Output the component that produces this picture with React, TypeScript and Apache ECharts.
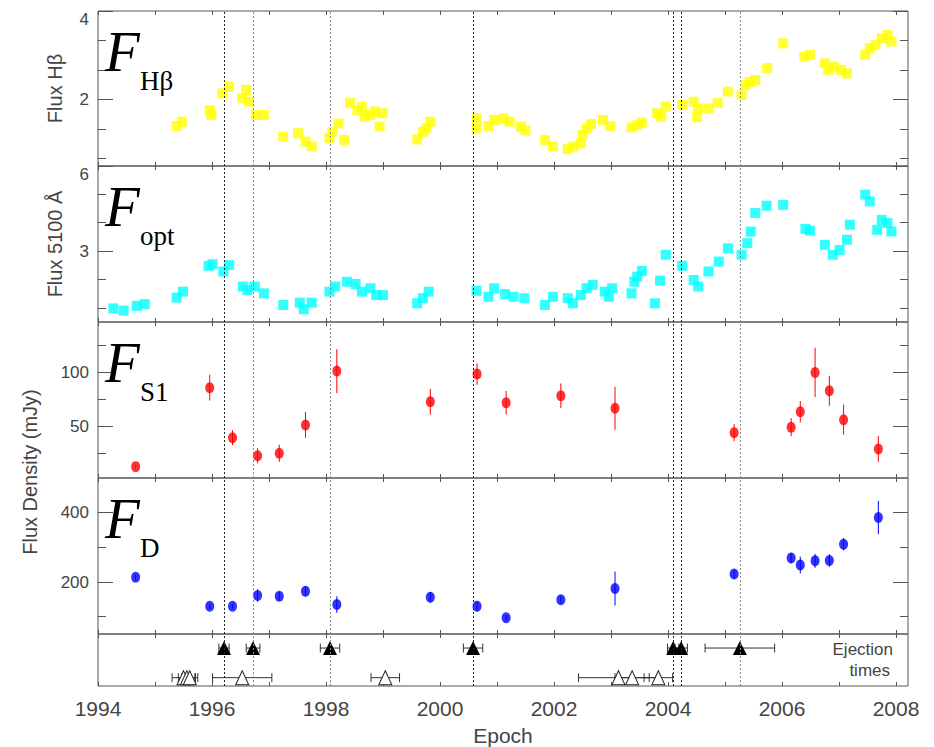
import React, { useEffect, useRef } from "react";
import * as echarts from "echarts";

const SANS = "'Liberation Sans', Arial, sans-serif";
const SERIF = "'Liberation Serif', 'Times New Roman', serif";
const TEXT = "#444";
const FRAME = "#555";

const X_MIN = 1994;
const X_MAX = 2008.21;
const YEAR_TICKS = [1994, 1995, 1996, 1997, 1998, 1999, 2000, 2001, 2002, 2003, 2004, 2005, 2006, 2007, 2008];
const YEAR_LABELS = [1994, 1996, 1998, 2000, 2002, 2004, 2006, 2008];

// H-beta line flux
const hbTime = [1995.38, 1995.47, 1995.96, 1995.99, 1996.18, 1996.30, 1996.53, 1996.60, 1996.65, 1996.77, 1996.91, 1997.25, 1997.51, 1997.64, 1997.75, 1998.06, 1998.11, 1998.22, 1998.32, 1998.42, 1998.55, 1998.63, 1998.68, 1998.78, 1998.86, 1998.94, 1998.99, 1999.60, 1999.70, 1999.76, 1999.83, 2000.64, 2000.64, 2000.85, 2000.95, 2001.11, 2001.22, 2001.42, 2001.50, 2001.84, 2001.98, 2002.24, 2002.34, 2002.47, 2002.50, 2002.57, 2002.65, 2002.86, 2002.99, 2003.36, 2003.46, 2003.54, 2003.81, 2003.88, 2003.96, 2004.25, 2004.45, 2004.51, 2004.53, 2004.71, 2004.87, 2005.05, 2005.29, 2005.36, 2005.43, 2005.53, 2005.74, 2006.02, 2006.39, 2006.49, 2006.75, 2006.81, 2006.91, 2007.04, 2007.14, 2007.46, 2007.54, 2007.64, 2007.75, 2007.85, 2007.92];
const hbFlux = [1.40, 1.50, 1.76, 1.65, 2.14, 2.29, 2.03, 2.22, 1.95, 1.65, 1.65, 1.16, 1.24, 1.05, 0.94, 1.13, 1.27, 1.46, 1.09, 1.92, 1.76, 1.84, 1.61, 1.65, 1.73, 1.39, 1.69, 1.10, 1.27, 1.35, 1.50, 1.58, 1.35, 1.40, 1.54, 1.58, 1.50, 1.39, 1.30, 1.09, 0.94, 0.88, 0.94, 1.01, 1.20, 1.35, 1.45, 1.54, 1.40, 1.37, 1.42, 1.48, 1.69, 1.61, 1.84, 1.88, 1.95, 1.60, 1.80, 1.80, 1.92, 2.18, 2.10, 2.33, 2.40, 2.44, 2.71, 3.27, 2.97, 3.01, 2.82, 2.67, 2.74, 2.67, 2.59, 3.01, 3.16, 3.23, 3.38, 3.46, 3.31];

// Optical continuum flux at 5100 A
const optTime = [1994.27, 1994.45, 1994.68, 1994.82, 1995.38, 1995.49, 1995.94, 1996.01, 1996.20, 1996.30, 1996.54, 1996.62, 1996.75, 1996.91, 1997.25, 1997.54, 1997.61, 1997.75, 1998.06, 1998.16, 1998.37, 1998.52, 1998.63, 1998.78, 1998.88, 1999.00, 1999.60, 1999.70, 1999.80, 2000.64, 2000.85, 2000.95, 2001.14, 2001.29, 2001.48, 2001.84, 2001.98, 2002.24, 2002.33, 2002.47, 2002.57, 2002.68, 2002.89, 2002.96, 2003.02, 2003.36, 2003.41, 2003.46, 2003.54, 2003.77, 2003.86, 2003.96, 2004.25, 2004.45, 2004.53, 2004.71, 2004.89, 2005.05, 2005.29, 2005.39, 2005.45, 2005.53, 2005.73, 2006.02, 2006.41, 2006.49, 2006.75, 2006.89, 2007.01, 2007.14, 2007.19, 2007.46, 2007.54, 2007.67, 2007.75, 2007.85, 2007.92];
const optFlux = [0.98, 0.90, 1.07, 1.13, 1.36, 1.57, 2.48, 2.54, 2.28, 2.51, 1.75, 1.63, 1.75, 1.51, 1.10, 1.18, 0.95, 1.18, 1.57, 1.75, 1.92, 1.84, 1.57, 1.69, 1.45, 1.45, 1.16, 1.34, 1.57, 1.60, 1.39, 1.69, 1.49, 1.39, 1.34, 1.10, 1.39, 1.34, 1.16, 1.45, 1.69, 1.81, 1.57, 1.39, 1.69, 1.51, 1.92, 2.10, 2.30, 1.16, 1.96, 2.87, 2.48, 1.98, 1.75, 2.28, 2.63, 3.10, 2.87, 3.28, 3.69, 4.34, 4.60, 4.63, 3.78, 3.72, 3.22, 2.87, 3.04, 3.40, 3.93, 4.99, 4.75, 3.75, 4.10, 3.99, 3.69];

// Radio epochs: jet component S1 and the core region D (mJy)
const radioTime = [1994.66, 1995.96, 1996.36, 1996.80, 1997.18, 1997.64, 1998.19, 1999.83, 2000.65, 2001.16, 2002.12, 2003.07, 2005.16, 2006.16, 2006.32, 2006.58, 2006.83, 2007.08, 2007.69];
const s1Flux = [12.1, 85.7, 39.1, 22.3, 24.6, 50.9, 101.2, 72.6, 98.4, 71.7, 78.2, 66.5, 43.8, 48.8, 63.3, 100.0, 82.9, 55.9, 28.6];
const s1Err = [2, 12, 7, 7, 8, 12, 20.5, 12, 10, 11, 11.5, 20, 8, 8.5, 10, 23, 14, 14, 12];
const dFlux = [214, 130, 130, 161, 159, 173, 135, 156, 130, 97, 149, 181, 223, 269, 249, 261, 262, 309, 386];
const dErr = [8, 8, 7, 18, 12, 14, 24, 15, 15, 8, 10, 49, 12, 15, 24, 20, 18, 18, 48];

// Ejection times of superluminal knots (filled) and of other components (open)
const ejectTime = [1996.21, 1996.72, 1998.07, 2000.58, 2004.09, 2004.23, 2005.26];
const ejectErr = [0.09, 0.12, 0.17, 0.17, 0.10, 0.11, 0.61];
const otherTime = [1995.50, 1995.56, 1995.61, 1996.53, 1999.04, 2003.13, 2003.37, 2003.83];
const otherErr = [0.20, 0.15, 0.14, 0.52, 0.25, 0.70, 0.30, 0.25];

// which ejection guide lines are drawn dark
const DARK_GUIDES = [0, 3, 4, 5];
const ROW_FILLED = 0.73;
const ROW_OPEN = 0.16;

const GRIDS = [
  { top: 11, height: 155 },
  { top: 166, height: 156 },
  { top: 322, height: 156 },
  { top: 478, height: 156 },
  { top: 634, height: 52 },
];

const PANEL_AXES = [
  { min: 0.5, max: 4, labels: [2, 4], minor: [2 / 3, 4 / 3, 8 / 3, 10 / 3], topAlign: true },
  { min: 0.5, max: 6, labels: [3, 6], minor: [1, 2, 4, 5], topAlign: true },
  { min: 1.5, max: 147, labels: [50, 100], minor: [25, 75, 125], topAlign: false },
  { min: 50, max: 500, labels: [200, 400], minor: [100, 300], topAlign: false },
];

const zip2 = (a: number[], b: number[]) => a.map((v, i) => [v, b[i]]);
const zip3 = (a: number[], b: number[], c: number[]) => a.map((v, i) => [v, b[i], c[i]]);

function xAxesFor(gi: number, withLabels: boolean) {
  const base = {
    type: "value",
    gridIndex: gi,
    min: X_MIN,
    max: X_MAX,
    axisLine: { show: false },
    splitLine: { show: false },
    axisTick: { show: true, inside: true, length: 4, customValues: YEAR_TICKS, lineStyle: { color: FRAME } },
  };
  return [
    {
      ...base,
      position: "bottom",
      axisLabel: withLabels
        ? {
            show: true,
            customValues: YEAR_LABELS,
            formatter: (v: number) => String(Math.round(v)),
            margin: 12,
            fontSize: 21,
            color: TEXT,
            fontFamily: SANS,
          }
        : { show: false },
    },
    { ...base, position: "top", axisLabel: { show: false } },
  ];
}

function yAxesFor(gi: number, p: (typeof PANEL_AXES)[number]) {
  const base = {
    type: "value",
    gridIndex: gi,
    min: p.min,
    max: p.max,
    axisLine: { show: false },
    splitLine: { show: false },
  };
  const tick = (vals: number[], len: number) => ({
    show: true,
    inside: true,
    length: len,
    customValues: vals,
    lineStyle: { color: FRAME },
  });
  return [
    {
      ...base,
      position: "left",
      axisTick: tick(p.labels, 15),
      axisLabel: {
        show: true,
        customValues: p.labels,
        formatter: (v: number) => String(v),
        margin: 9,
        fontSize: 17,
        color: TEXT,
        fontFamily: SANS,
        ...(p.topAlign ? { verticalAlignMaxLabel: "top" } : {}),
      },
    },
    { ...base, position: "left", axisTick: tick(p.minor, 8), axisLabel: { show: false } },
    { ...base, position: "right", axisTick: tick(p.labels, 15), axisLabel: { show: false } },
    { ...base, position: "right", axisTick: tick(p.minor, 8), axisLabel: { show: false } },
  ];
}

const guideLines = {
  silent: true,
  symbol: ["none", "none"],
  label: { show: false },
  emphasis: { disabled: true },
  data: ejectTime.map((t, i) => ({
    xAxis: t,
    lineStyle: { color: DARK_GUIDES.includes(i) ? "#222" : "#8a8a8a", type: [2, 2], width: 1 },
  })),
};

function verticalErrors(color: string) {
  return (_params: any, api: any) => {
    const x = api.value(0);
    const y = api.value(1);
    const e = api.value(2);
    const a = api.coord([x, y + e]);
    const b = api.coord([x, y - e]);
    return {
      type: "line",
      shape: { x1: a[0], y1: a[1], x2: b[0], y2: b[1] },
      style: { stroke: color, lineWidth: 1 },
    };
  };
}

function horizontalErrors(_params: any, api: any) {
  const t = api.value(0);
  const y = api.value(1);
  const e = api.value(2);
  const a = api.coord([t - e, y]);
  const b = api.coord([t + e, y]);
  const h = 4.5;
  const style = { stroke: "#333", lineWidth: 1 };
  return {
    type: "group",
    children: [
      { type: "line", shape: { x1: a[0], y1: a[1], x2: b[0], y2: b[1] }, style },
      { type: "line", shape: { x1: a[0], y1: a[1] - h, x2: a[0], y2: a[1] + h }, style },
      { type: "line", shape: { x1: b[0], y1: b[1] - h, x2: b[0], y2: b[1] + h }, style },
    ],
  };
}

const PANEL_SYMBOLS = [
  { main: "F", sub: "Hβ" },
  { main: "F", sub: "opt" },
  { main: "F", sub: "S1" },
  { main: "F", sub: "D" },
];

function buildOption() {
  const xAxis: any[] = [];
  const yAxis: any[] = [];
  GRIDS.forEach((_, gi) => xAxis.push(...xAxesFor(gi, gi === GRIDS.length - 1)));
  PANEL_AXES.forEach((p, gi) => yAxis.push(...yAxesFor(gi, p)));
  yAxis.push({
    type: "value",
    gridIndex: 4,
    min: 0,
    max: 1,
    axisLine: { show: false },
    axisTick: { show: false },
    axisLabel: { show: false },
    splitLine: { show: false },
  });

  const guideSeries = GRIDS.map((_, gi) => ({
    type: "scatter",
    xAxisIndex: gi * 2,
    yAxisIndex: gi < 4 ? gi * 4 : 16,
    data: [],
    z: 1,
    markLine: guideLines,
  }));

  const series: any[] = [
    ...guideSeries,
    {
      type: "scatter",
      xAxisIndex: 0,
      yAxisIndex: 0,
      data: zip2(hbTime, hbFlux),
      symbol: "rect",
      symbolSize: 10,
      itemStyle: { color: "#ffff00" },
      z: 3,
    },
    {
      type: "scatter",
      xAxisIndex: 2,
      yAxisIndex: 4,
      data: zip2(optTime, optFlux),
      symbol: "rect",
      symbolSize: 10,
      itemStyle: { color: "#00ffff" },
      z: 3,
    },
    {
      type: "custom",
      xAxisIndex: 4,
      yAxisIndex: 8,
      data: zip3(radioTime, s1Flux, s1Err),
      encode: { x: 0, y: 1 },
      renderItem: verticalErrors("#ff0000"),
      z: 2,
    },
    {
      type: "scatter",
      xAxisIndex: 4,
      yAxisIndex: 8,
      data: zip2(radioTime, s1Flux),
      symbol: "circle",
      symbolSize: [9, 11],
      itemStyle: { color: "#ff0000" },
      z: 3,
    },
    {
      type: "custom",
      xAxisIndex: 6,
      yAxisIndex: 12,
      data: zip3(radioTime, dFlux, dErr),
      encode: { x: 0, y: 1 },
      renderItem: verticalErrors("#0000ff"),
      z: 2,
    },
    {
      type: "scatter",
      xAxisIndex: 6,
      yAxisIndex: 12,
      data: zip2(radioTime, dFlux),
      symbol: "circle",
      symbolSize: [9, 11],
      itemStyle: { color: "#0000ff" },
      z: 3,
    },
    {
      type: "custom",
      xAxisIndex: 8,
      yAxisIndex: 16,
      data: ejectTime.map((t, i) => [t, ROW_FILLED, ejectErr[i]]),
      encode: { x: 0, y: 1 },
      renderItem: horizontalErrors,
      z: 2,
    },
    {
      type: "custom",
      xAxisIndex: 8,
      yAxisIndex: 16,
      data: otherTime.map((t, i) => [t, ROW_OPEN, otherErr[i]]),
      encode: { x: 0, y: 1 },
      renderItem: horizontalErrors,
      z: 2,
    },
    {
      type: "scatter",
      xAxisIndex: 8,
      yAxisIndex: 16,
      data: ejectTime.map((t) => [t, ROW_FILLED]),
      symbol: "triangle",
      symbolSize: [14, 14],
      itemStyle: { color: "#000", opacity: 1 },
      z: 3,
    },
    {
      type: "scatter",
      xAxisIndex: 8,
      yAxisIndex: 16,
      data: otherTime.map((t) => [t, ROW_OPEN]),
      symbol: "triangle",
      symbolSize: [13, 14],
      itemStyle: { color: "#fff", borderColor: "#222", borderWidth: 1, opacity: 1 },
      z: 3,
    },
  ];

  const graphic: any[] = [];
  PANEL_SYMBOLS.forEach((s, i) => {
    const top = GRIDS[i].top;
    graphic.push({
      type: "text",
      x: 105,
      y: top + 40.5,
      z: 10,
      style: { text: s.main, fontFamily: SERIF, fontStyle: "italic", fontSize: 57, fill: "#000", verticalAlign: "middle" },
    });
    graphic.push({
      type: "text",
      x: 140,
      y: top + 70,
      z: 10,
      style: { text: s.sub, fontFamily: SERIF, fontSize: 27, fill: "#000", verticalAlign: "middle" },
    });
  });
  const axisTitle = (text: string, x: number, y: number) => ({
    type: "text",
    x,
    y,
    rotation: Math.PI / 2,
    style: { text, fontFamily: SANS, fontSize: 20, fill: TEXT, align: "center", verticalAlign: "middle" },
  });
  graphic.push(axisTitle("Flux Hβ", 55, 88.5));
  graphic.push(axisTitle("Flux 5100 Å", 55, 244));
  graphic.push(axisTitle("Flux Density (mJy)", 30, 472));
  graphic.push({
    type: "text",
    x: 503,
    y: 735,
    style: { text: "Epoch", fontFamily: SANS, fontSize: 21, fill: TEXT, align: "center", verticalAlign: "middle" },
  });
  graphic.push({
    type: "text",
    x: 893,
    y: 649,
    style: {
      text: "Ejection",
      fontFamily: SANS,
      fontSize: 17,
      lineHeight: 16,
      fill: TEXT,
      align: "right",
      verticalAlign: "middle",
    },
  });
  graphic.push({
    type: "text",
    x: 890,
    y: 670,
    style: {
      text: "times",
      fontFamily: SANS,
      fontSize: 17,
      lineHeight: 16,
      fill: TEXT,
      align: "right",
      verticalAlign: "middle",
    },
  });

  return {
    animation: false,
    backgroundColor: "#fff",
    grid: GRIDS.map((g) => ({
      left: 98,
      width: 810,
      top: g.top,
      height: g.height,
      show: true,
      borderColor: FRAME,
      borderWidth: 1,
      backgroundColor: "transparent",
      containLabel: false,
    })),
    xAxis,
    yAxis,
    series,
    graphic,
  };
}

export default function App() {
  const ref = useRef<HTMLDivElement>(null);
  useEffect(() => {
    if (!ref.current) return;
    const chart = echarts.init(ref.current, null, { renderer: "svg" });
    chart.setOption(buildOption() as any);
    return () => chart.dispose();
  }, []);
  return (
    <div
      ref={ref}
      style={{ position: "fixed", left: 0, top: 0, width: 934, height: 747, background: "#fff" }}
    />
  );
}
